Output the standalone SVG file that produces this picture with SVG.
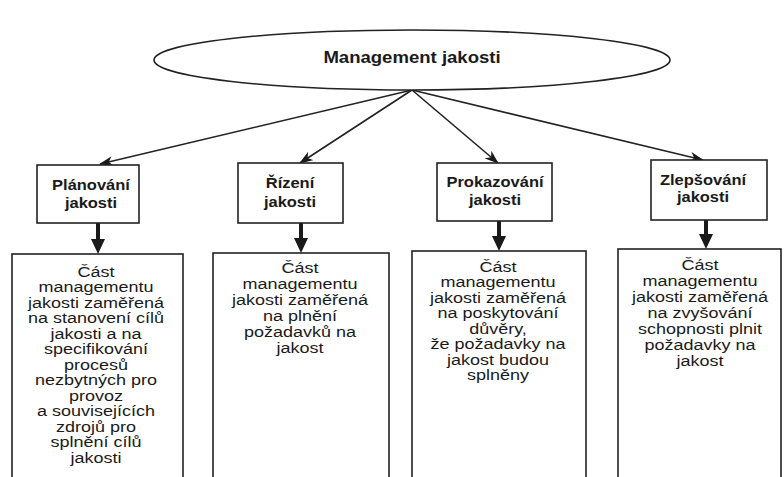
<svg xmlns="http://www.w3.org/2000/svg" width="784" height="477" viewBox="0 0 784 477">
<defs>
<style>
.bg{fill:#ffffff}
.shape{fill:#ffffff;stroke:#222222;stroke-width:1.6}
.t{font-family:"Liberation Sans",Arial,sans-serif;fill:#1a1a1a;text-anchor:middle}
.b{font-weight:bold}
.hdr{font-size:15px}
.body{font-size:15px}
.conn{stroke:#222222;stroke-width:1.6;fill:none}
.thick{stroke:#1a1a1a;stroke-width:4;fill:none}
</style>
<marker id="ah" viewBox="0 0 14 10" refX="13" refY="5" markerWidth="14" markerHeight="10" markerUnits="userSpaceOnUse" orient="auto">
<path d="M0,0 L14,5 L0,10 L4,5 Z" fill="#1a1a1a"/>
</marker>
</defs>
<rect class="bg" x="0" y="0" width="784" height="477"/>

<g id="connectors">
<line class="conn" x1="412" y1="90" x2="100" y2="164" marker-end="url(#ah)"/>
<line class="conn" x1="412" y1="90" x2="300" y2="163" marker-end="url(#ah)"/>
<line class="conn" x1="412" y1="90" x2="498" y2="163" marker-end="url(#ah)"/>
<line class="conn" x1="412" y1="90" x2="703" y2="160" marker-end="url(#ah)"/>
<line class="thick" x1="98" y1="223" x2="98" y2="240"/>
<path d="M91,239 L105,239 L98,254 Z" fill="#1a1a1a"/>
<line class="thick" x1="301" y1="223" x2="301" y2="239"/>
<path d="M294,238 L308,238 L301,253 Z" fill="#1a1a1a"/>
<line class="thick" x1="499" y1="221" x2="499" y2="237"/>
<path d="M492,236 L506,236 L499,251 Z" fill="#1a1a1a"/>
<line class="thick" x1="706" y1="220" x2="706" y2="235"/>
<path d="M699,234 L713,234 L706,249 Z" fill="#1a1a1a"/>
</g>

<g id="root">
<ellipse class="shape" cx="412" cy="60" rx="258" ry="30"/>
<text class="t b" font-size="16" transform="translate(412 0) scale(1.16 1)" x="0" y="63">Management jakosti</text>
</g>

<g id="n1">
<rect class="shape" x="37" y="165" width="102" height="58"/>
<text class="t b hdr" transform="translate(91 0) scale(1.1 1)" x="0" y="190">Plánování</text>
<text class="t b hdr" transform="translate(91 0) scale(1.1 1)" x="0" y="208">jakosti</text>
</g>
<g id="n2">
<rect class="shape" x="238" y="163" width="105" height="60"/>
<text class="t b hdr" transform="translate(290 0) scale(1.1 1)" x="0" y="188">Řízení</text>
<text class="t b hdr" transform="translate(290 0) scale(1.1 1)" x="0" y="207">jakosti</text>
</g>
<g id="n3">
<rect class="shape" x="437" y="163" width="115" height="58"/>
<text class="t b hdr" transform="translate(495 0) scale(1.1 1)" x="0" y="187">Prokazování</text>
<text class="t b hdr" transform="translate(495 0) scale(1.1 1)" x="0" y="205">jakosti</text>
</g>
<g id="n4">
<rect class="shape" x="651" y="160" width="116" height="60"/>
<text class="t b hdr" transform="translate(703 0) scale(1.1 1)" x="0" y="185">Zlepšování</text>
<text class="t b hdr" transform="translate(703 0) scale(1.1 1)" x="0" y="202">jakosti</text>
</g>

<g id="d1">
<rect class="shape" x="12" y="254" width="171" height="240"/>
<g transform="translate(96 0) scale(1.2 1)">
<text class="t body" x="0" y="277">Část</text>
<text class="t body" x="0" y="292.5">managementu</text>
<text class="t body" x="0" y="308">jakosti zaměřená</text>
<text class="t body" x="0" y="323.5">na stanovení cílů</text>
<text class="t body" x="0" y="339">jakosti a na</text>
<text class="t body" x="0" y="354.5">specifikování</text>
<text class="t body" x="0" y="370">procesů</text>
<text class="t body" x="0" y="385.5">nezbytných pro</text>
<text class="t body" x="0" y="401">provoz</text>
<text class="t body" x="0" y="416.5">a souvisejících</text>
<text class="t body" x="0" y="432">zdrojů pro</text>
<text class="t body" x="0" y="447.5">splnění cílů</text>
<text class="t body" x="0" y="463">jakosti</text>
</g>
</g>
<g id="d2">
<rect class="shape" x="213" y="253" width="176" height="240"/>
<g transform="translate(300 0) scale(1.2 1)">
<text class="t body" x="0" y="273">Část</text>
<text class="t body" x="0" y="289">managementu</text>
<text class="t body" x="0" y="305">jakosti zaměřená</text>
<text class="t body" x="0" y="321">na plnění</text>
<text class="t body" x="0" y="337">požadavků na</text>
<text class="t body" x="0" y="353">jakost</text>
</g>
</g>
<g id="d3">
<rect class="shape" x="412" y="251" width="174" height="240"/>
<g transform="translate(498 0) scale(1.2 1)">
<text class="t body" x="0" y="272">Část</text>
<text class="t body" x="0" y="287.5">managementu</text>
<text class="t body" x="0" y="303">jakosti zaměřená</text>
<text class="t body" x="0" y="318.5">na poskytování</text>
<text class="t body" x="0" y="334">důvěry,</text>
<text class="t body" x="0" y="349.5">že požadavky na</text>
<text class="t body" x="0" y="365">jakost budou</text>
<text class="t body" x="0" y="380.5">splněny</text>
</g>
</g>
<g id="d4">
<rect class="shape" x="618" y="249" width="163" height="240"/>
<g transform="translate(700 0) scale(1.2 1)">
<text class="t body" x="0" y="270">Část</text>
<text class="t body" x="0" y="286">managementu</text>
<text class="t body" x="0" y="302">jakosti zaměřená</text>
<text class="t body" x="0" y="318">na zvyšování</text>
<text class="t body" x="0" y="334">schopnosti plnit</text>
<text class="t body" x="0" y="350">požadavky na</text>
<text class="t body" x="0" y="366">jakost</text>
</g>
</g>
</svg>
